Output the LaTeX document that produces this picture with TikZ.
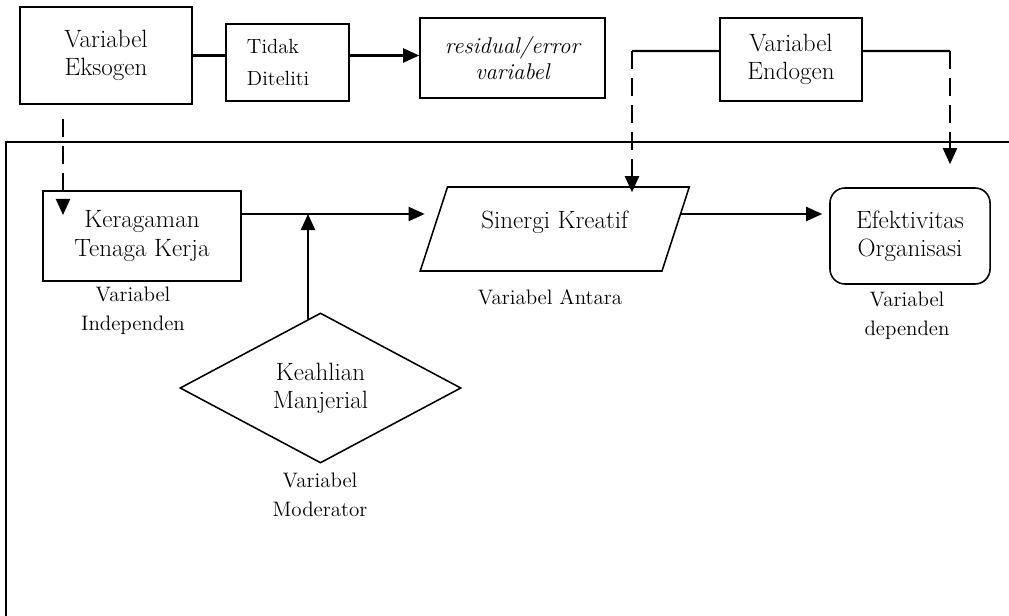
\documentclass[tikz,border=0pt]{standalone}
\usetikzlibrary{arrows.meta,shapes.geometric}

\tikzset{
	box/.style={draw, line width=1.1pt, align=center, inner sep=2pt},
	bigtxt/.style={font=\fontsize{17.8}{20}\selectfont},
	smalltxt/.style={font=\fontsize{14.9}{20.6}\selectfont},
	link/.style={line width=1.5pt},
	arr/.style={line width=1.5pt, -{Triangle[length=0.4cm,width=0.35cm]}},
	dasharr/.style={arr, dash pattern=on 0.45cm off 0.225cm},
}

\begin{document}
\begin{tikzpicture}[x=0.025cm, y=-0.025cm]
		%\draw[lightgray] (0, 0) grid[step=50] (1009, 616);
		\useasboundingbox (0, 0) rectangle (1009, 616);
		\draw[line width=1pt] (6, 620) -- (6, 142) -- (1012, 142);
		
		\node[box, bigtxt, minimum width=4.3cm, minimum height=2.425cm] (eksogen) at (106, 55.5) {Variabel\\Eksogen};
		\node[box, font=\fontsize{14.6}{22.8}\selectfont, text width=2.025cm, inner xsep=0.525cm, minimum height=1.925cm, align=left] (tidak) at (287.5, 62.5) {Tidak\\Diteliti};
		\node[box, font=\itshape\fontsize{16.2}{18.5}\selectfont, minimum width=4.625cm, minimum height=2cm] (residual) at (512.5, 58) {residual/error\\variabel};
		\node[box, bigtxt, minimum width=3.55cm, minimum height=2.075cm] (endogen) at (791, 59.5) {Variabel\\Endogen};
		
		\node[box, bigtxt, minimum width=4.95cm, minimum height=2.25cm] (keragaman) at (142, 236) {Keragaman\\Tenaga Kerja};
		\node[box, bigtxt, trapezium, trapezium left angle=72, trapezium right angle=108, trapezium stretches body, inner ysep=0pt, text height=1.05cm, text depth=1.05cm, minimum width=6.725cm] (sinergi) at (554.75, 229) {Sinergi Kreatif};
		\node[box, bigtxt, rounded corners=0.375cm, minimum width=4cm, minimum height=2.4cm] (efektivitas) at (910, 236) {Efektivitas\\Organisasi};
		\node[box, bigtxt, diamond, aspect=1.87, inner sep=0pt, minimum width=7.025cm, minimum height=3.75cm] (manajerial) at (320.5, 388) {Keahlian\\Manjerial};
		
		\node[smalltxt, align=center] (lblindep) at (133, 311) {Variabel\\Independen};
		\node[smalltxt, align=center] (lblantara) at (550, 297) {Variabel Antara};
		\node[smalltxt, align=center] (lbldep) at (907, 316) {Variabel\\dependen};
		\node[smalltxt, align=center] (lblmod) at (320, 495) {Variabel\\Moderator};
		
		\coordinate (jn) at (308, 214);
		\coordinate (exotip) at (63, 215);
		\coordinate (endL) at (632, 51);
		\coordinate (endR) at (950, 51);
		
		\draw[link] (eksogen.east) -- (eksogen.east -| tidak.west);
		\draw[arr] (eksogen.east -| tidak.east) -- (eksogen.east -| residual.west);
		\draw[dasharr] ([yshift=-0.35cm]eksogen.south -| exotip) -- (exotip);
		
		\draw[link] ([yshift=0.2125cm]endogen.west) -- (endL);
		\draw[dasharr] (endL) -- ([yshift=-0.15cm]endL |- sinergi.north);
		\draw[link] ([yshift=0.2125cm]endogen.east) -- (endR);
		\draw[dasharr] (endR) -- ([yshift=0.575cm]endR |- efektivitas.north);
		
		\draw[arr] (keragaman.east |- jn) -- ([xshift=-0.21cm]sinergi.west |- jn);
		\draw[arr] ([yshift=-0.17cm]manajerial.north -| jn) -- (jn);
		\draw[arr] ([xshift=0.11cm]sinergi.east |- jn) -- ([xshift=-0.175cm]efektivitas.west |- jn);
	\end{tikzpicture}
\end{document}
